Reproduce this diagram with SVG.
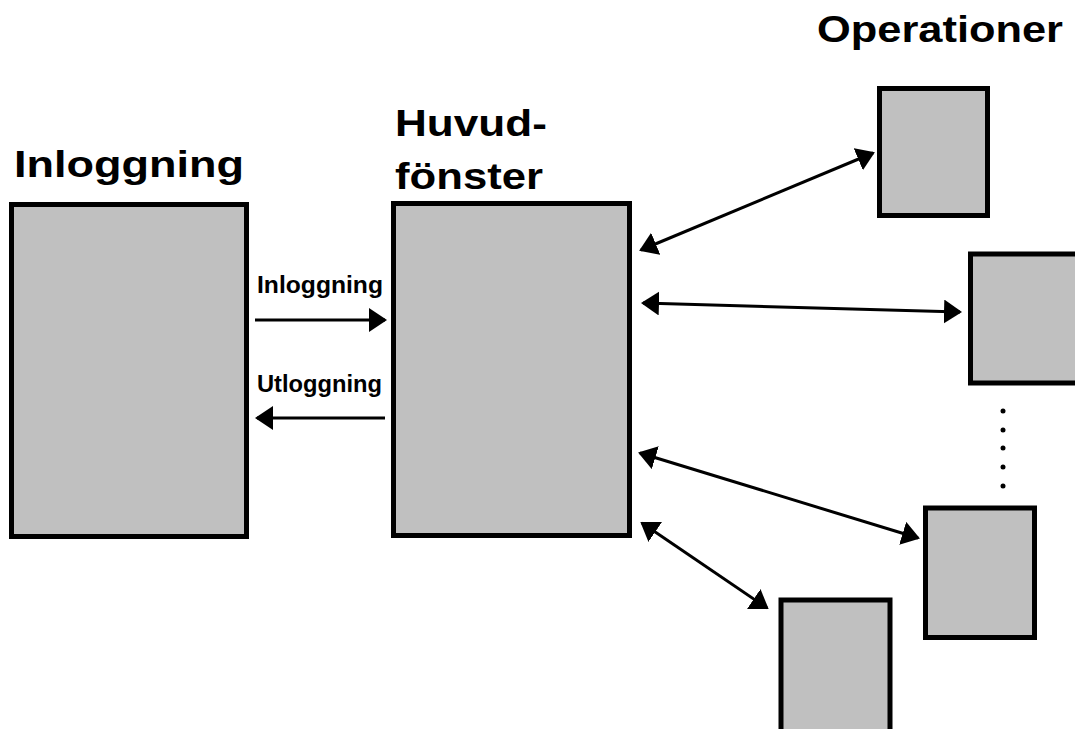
<svg xmlns="http://www.w3.org/2000/svg" width="1075" height="729" viewBox="0 0 1075 729">
  <defs>
    <style>
      .box { fill: #c0c0c0; stroke: #000; stroke-width: 5; }
      .title { font-family: "Liberation Sans", Arial, sans-serif; font-weight: bold; font-size: 37px; fill: #000; }
      .label { font-family: "Liberation Sans", Arial, sans-serif; font-weight: bold; font-size: 24px; fill: #000; }
      .link { stroke: #000; stroke-width: 3; fill: none; }
      .dot { fill: #000; }
    </style>
    <marker id="head" markerUnits="userSpaceOnUse" markerWidth="20" markerHeight="26" refX="16" refY="12" orient="auto-start-reverse" viewBox="0 0 20 26">
      <path d="M0,0 L18,12 L0,24 z" fill="#000"/>
    </marker>
  </defs>

  <rect width="1075" height="729" fill="#fff"/>

  <!-- login window -->
  <g id="inloggning">
    <rect class="box" x="11.5" y="204.5" width="235" height="332"/>
    <text class="title" x="14" y="177" textLength="230" lengthAdjust="spacingAndGlyphs">Inloggning</text>
  </g>

  <!-- main window -->
  <g id="huvudfonster">
    <rect class="box" x="393.5" y="203.5" width="236" height="332"/>
    <text class="title" x="395" y="136" textLength="152" lengthAdjust="spacingAndGlyphs">Huvud-</text>
    <text class="title" x="395" y="189" textLength="148" lengthAdjust="spacingAndGlyphs">fönster</text>
  </g>

  <!-- operation windows -->
  <g id="operationer">
    <text class="title" x="817" y="42" textLength="246" lengthAdjust="spacingAndGlyphs">Operationer</text>
  </g>
  <g id="op1">
    <rect class="box" x="879.5" y="88.5" width="108" height="127"/>
  </g>
  <g id="op2">
    <rect class="box" x="970.5" y="254" width="110" height="129"/>
  </g>
  <g id="op3">
    <rect class="box" x="925.5" y="508" width="109" height="129.5"/>
  </g>
  <g id="op4">
    <rect class="box" x="781" y="600" width="109" height="134"/>
  </g>
  <g id="more">
    <circle class="dot" cx="1003" cy="411" r="2.5"/>
    <circle class="dot" cx="1003" cy="430" r="2.5"/>
    <circle class="dot" cx="1003" cy="448" r="2.5"/>
    <circle class="dot" cx="1003" cy="467" r="2.5"/>
    <circle class="dot" cx="1003" cy="486" r="2.5"/>
  </g>

  <!-- connectors -->
  <g id="connectors">
    <line class="link" x1="255" y1="320" x2="385" y2="320" marker-end="url(#head)"/>
    <text class="label" x="257" y="293" textLength="126" lengthAdjust="spacingAndGlyphs">Inloggning</text>
    <line class="link" x1="385" y1="418" x2="257" y2="418" marker-end="url(#head)"/>
    <text class="label" x="257" y="392" textLength="125" lengthAdjust="spacingAndGlyphs">Utloggning</text>

    <line class="link" x1="641" y1="250" x2="873" y2="153" marker-start="url(#head)" marker-end="url(#head)"/>
    <line class="link" x1="643" y1="303" x2="960" y2="312" marker-start="url(#head)" marker-end="url(#head)"/>
    <line class="link" x1="640" y1="453" x2="918" y2="538" marker-start="url(#head)" marker-end="url(#head)"/>
    <line class="link" x1="642" y1="523" x2="767" y2="608" marker-start="url(#head)" marker-end="url(#head)"/>
  </g>
</svg>
